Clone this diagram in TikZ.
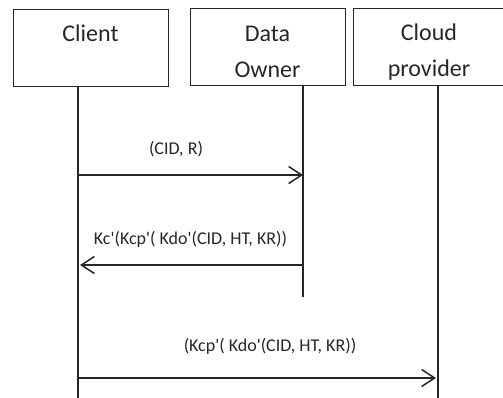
\documentclass[tikz,border=0pt]{standalone}
\usepackage{fontspec}
\setmainfont{Carlito}[Ligatures=TeXOff]
\usetikzlibrary{arrows.meta}
\definecolor{ink}{HTML}{262626}
\begin{document}
\begin{tikzpicture}[x=1pt,y=-1pt,
  actor/.style={draw=ink,line width=1.3pt,minimum width=155pt,minimum height=77pt,inner sep=0pt},
  actortext/.style={font=\fontsize{24}{36}\selectfont,text=ink,inner sep=0pt,anchor=base},
  life/.style={draw=ink,line width=1.5pt},
  msg/.style={draw=ink,line width=1.5pt,-{Straight Barb[length=13pt,width=17pt,line width=1.5pt]}},
  lbl/.style={font=\fontsize{18}{20}\selectfont,text=ink,inner sep=0pt,anchor=base}]
\useasboundingbox (0,0) rectangle (503,398);
\node[actor,anchor=north west] (client) at (13,9) {};
\node[actor,anchor=north west] (owner) at (190,8) {};
\node[actor,anchor=north west] (cloud) at (353,8) {};
\node[actortext] (t1) at (90.5,42) {Client};
\node[actortext] (t2a) at (267.5,42) {Data};
\node[actortext] (t2b) at (267.5,77.5) {Owner};
\node[actortext] (t3a) at (429,41) {Cloud};
\node[actortext] (t3b) at (429,76.5) {provider};
% lifelines
\coordinate (cTop) at (78,87);
\coordinate (cBot) at (78,398);
\coordinate (oTop) at (303,85);
\coordinate (oBot) at (303,297);
\coordinate (pTop) at (438,85);
\coordinate (pBot) at (438,398);
\draw[life] (cTop) -- (cBot);
\draw[life] (oTop) -- (oBot);
\draw[life] (pTop) -- (pBot);
% messages
\coordinate (m1s) at (78,175);
\coordinate (m1e) at (303,175);
\coordinate (m2s) at (303,265);
\coordinate (m2e) at (80,265);
\coordinate (m3s) at (78,378);
\coordinate (m3e) at (436,378);
\draw[msg] (m1s) -- (m1e);
\draw[msg] (m2s) -- (m2e);
\draw[msg] (m3s) -- (m3e);
\node[lbl] (l1) at (176,155) {(CID, R)};
\node[lbl] (l2) at (190.5,244) {Kc'(Kcp'( Kdo'(CID, HT, KR))};
\node[lbl] (l3) at (270,351.5) {(Kcp'( Kdo'(CID, HT, KR))};
\end{tikzpicture}
\end{document}
